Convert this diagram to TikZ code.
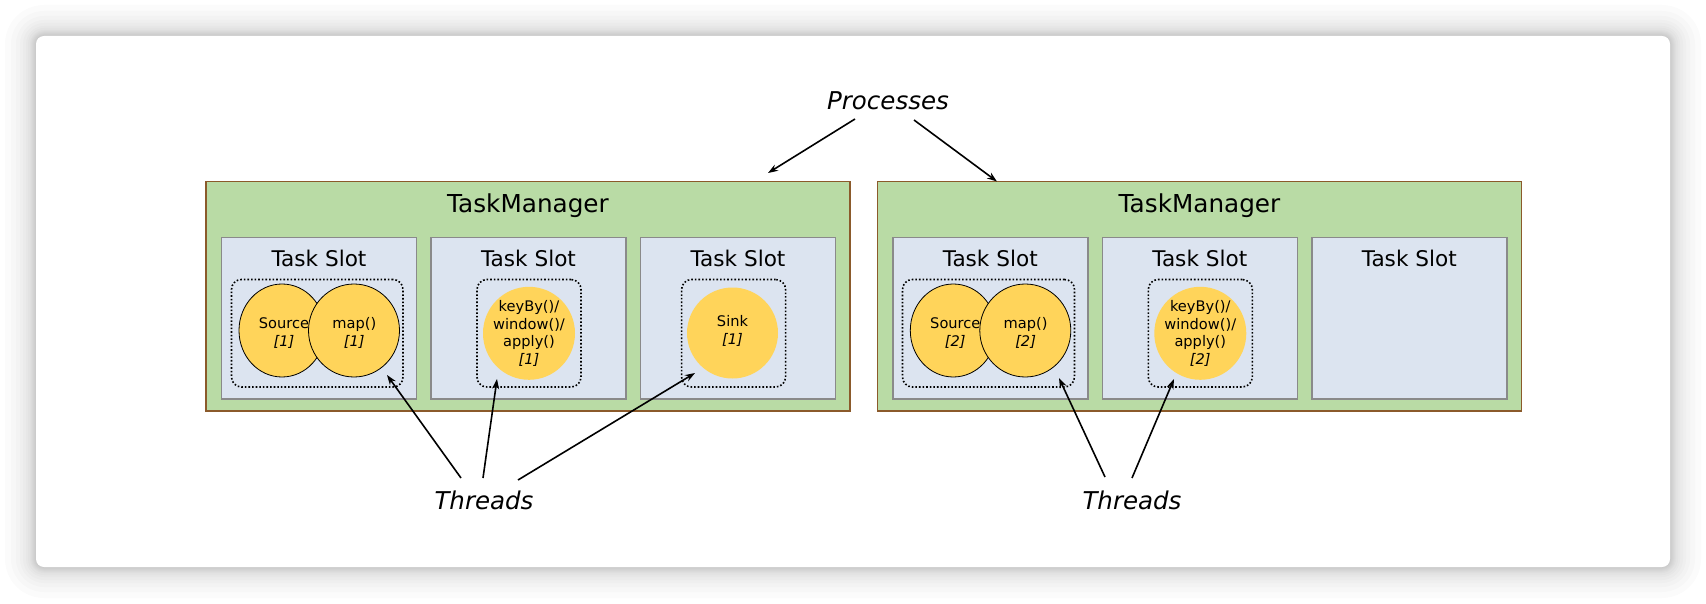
\documentclass[tikz,border=0pt]{standalone}
\usepackage{fontspec}
\setmainfont{DejaVu Sans}
\usetikzlibrary{shapes.geometric,arrows.meta}
\definecolor{tmfill}{HTML}{B9DBA5}
\definecolor{tmline}{HTML}{8B5A2B}
\definecolor{slotfill}{HTML}{DCE4F0}
\definecolor{slotline}{HTML}{8A8A8A}
\definecolor{opfill}{HTML}{FFD45A}
\begin{document}
\begin{tikzpicture}[x=1pt,y=-1pt,
  tmbox/.style={draw=tmline, fill=tmfill, line width=1.5pt, minimum width=644pt, minimum height=229.5pt, inner sep=0pt},
  slotbox/.style={draw=slotline, fill=slotfill, line width=1.5pt, minimum width=195pt, minimum height=161.5pt, inner sep=0pt},
  thrbox/.style={draw=black, line width=1.6pt, dash pattern=on 1.6pt off 2pt, rounded corners=10pt, minimum height=107.5pt, inner sep=0pt},
  opnode/.style={ellipse, fill=opfill, inner sep=0pt, minimum height=93pt},
  opborder/.style={opnode, draw=black, line width=0.8pt},
  optext/.style={align=center, font=\fontsize{14.6}{17.4}\selectfont, inner sep=0pt},
  tmtitle/.style={font=\fontsize{24.7}{30}\selectfont, inner sep=0pt, anchor=base},
  slottitle/.style={font=\fontsize{21.6}{26}\selectfont, inner sep=0pt, anchor=base},
  callout/.style={font=\fontsize{24.5}{30}\selectfont\itshape, inner sep=0pt, anchor=base},
  ptr/.style={line width=1.6pt, -{Stealth[length=10pt,width=7pt]}}
]
% canvas
\fill[white] (0,0) rectangle (1706,604);
\useasboundingbox (0,0) rectangle (1706,604);
% card shadow
\foreach \o [evaluate=\o as \r using 8+\o] in {1,2,3,4,5,6,8,10,13,16,20,25,31}
  \fill[black, opacity=0.014, rounded corners=\r pt] (36-\o,36-\o) rectangle (1670+\o,567+\o);
\fill[white, rounded corners=8pt] (36,36) rectangle (1670,567);

% ---------- TaskManager 1 ----------
\node[tmbox] (tm1) at (528,296.25) {};
\node[tmtitle] (tm1t) at (528,213) {TaskManager};
\node[slotbox] (s11) at (319,318.25) {};
\node[slotbox] (s12) at (528.5,318.25) {};
\node[slotbox] (s13) at (738,318.25) {};
\node[slottitle] (s11t) at (319,266) {Task Slot};
\node[slottitle] (s12t) at (528.5,266) {Task Slot};
\node[slottitle] (s13t) at (738,266) {Task Slot};
\node[thrbox, minimum width=171.5pt] (d11) at (317.25,333.25) {};
\node[thrbox, minimum width=104pt] (d12) at (529,333.25) {};
\node[thrbox, minimum width=104pt] (d13) at (733.6,333.25) {};
\node[opborder, minimum width=86pt] (src1) at (282,330.5) {};
\node[optext] (src1t) at (284,333) {Source\\\textit{[1]}};
\node[opborder, minimum width=91pt] (map1) at (354,330.5) {};
\node[optext] (map1t) at (354.3,333) {map()\\\textit{[1]}};
\node[opnode, minimum width=92pt] (key1) at (529,333.3) {};
\node[optext] (key1t) at (529,333.5) {keyBy()/\\window()/\\apply()\\\textit{[1]}};
\node[opnode, minimum width=91pt, minimum height=91pt] (sink1) at (732.5,333) {};
\node[optext] (sink1t) at (732.5,331) {Sink\\\textit{[1]}};

% ---------- TaskManager 2 ----------
\node[tmbox] (tm2) at (1199.3,296.25) {};
\node[tmtitle] (tm2t) at (1199.5,213) {TaskManager};
\node[slotbox] (s21) at (990.3,318.25) {};
\node[slotbox] (s22) at (1199.8,318.25) {};
\node[slotbox] (s23) at (1409.3,318.25) {};
\node[slottitle] (s21t) at (990.3,266) {Task Slot};
\node[slottitle] (s22t) at (1199.8,266) {Task Slot};
\node[slottitle] (s23t) at (1409.3,266) {Task Slot};
\node[thrbox, minimum width=172pt] (d21) at (988.5,333.25) {};
\node[thrbox, minimum width=104pt] (d22) at (1200.3,333.25) {};
\node[opborder, minimum width=86pt] (src2) at (953.3,330.5) {};
\node[optext] (src2t) at (955.3,333) {Source\\\textit{[2]}};
\node[opborder, minimum width=91pt] (map2) at (1025.3,330.5) {};
\node[optext] (map2t) at (1025.6,333) {map()\\\textit{[2]}};
\node[opnode, minimum width=92pt] (key2) at (1200.3,333.3) {};
\node[optext] (key2t) at (1200.3,333.5) {keyBy()/\\window()/\\apply()\\\textit{[2]}};

% ---------- callouts ----------
\node[callout] (proc) at (888,109.3) {Processes};
\node[callout] (thr1) at (484,509.3) {Threads};
\node[callout] (thr2) at (1132,509.3) {Threads};

\coordinate (pa) at (855,119);
\coordinate (pae) at (768,173);
\coordinate (pb) at (914,120);
\coordinate (pbe) at (997,181.5);
\draw[ptr] (pa) -- (pae);
\draw[ptr] (pb) -- (pbe);

\coordinate (t1a) at (461,478);
\coordinate (t1b) at (483,478);
\coordinate (t1c) at (518,480);
\coordinate (t1ae) at (387,375);
\coordinate (t1be) at (497,379);
\coordinate (t1ce) at (695,373);
\draw[ptr] (t1a) -- (t1ae);
\draw[ptr] (t1b) -- (t1be);
\draw[ptr] (t1c) -- (t1ce);

\coordinate (t2a) at (1105,477);
\coordinate (t2b) at (1132,478);
\coordinate (t2ae) at (1059,378);
\coordinate (t2be) at (1174,379);
\draw[ptr] (t2a) -- (t2ae);
\draw[ptr] (t2b) -- (t2be);
\end{tikzpicture}
\end{document}
